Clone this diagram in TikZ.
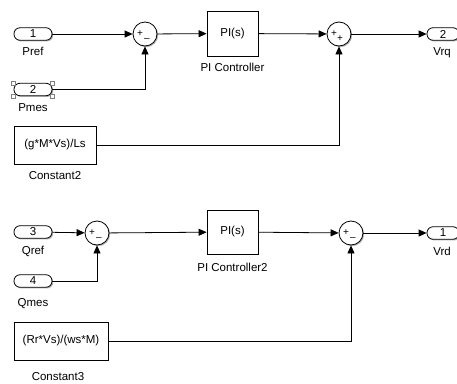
\documentclass[tikz,border=0pt]{standalone}
\usepackage{fontspec}
\setmainfont{Liberation Sans}
\usetikzlibrary{arrows.meta,shadows}

\begin{document}
\begin{tikzpicture}[x=1pt,y=-1pt,
    font=\fontsize{11.5}{12}\selectfont,
    shade/.style={drop shadow={shadow xshift=1.2pt,shadow yshift=-1.2pt,opacity=.3,fill=black}},
    port/.style={draw,line width=.8pt,rounded corners=6pt,minimum width=38pt,minimum height=12.5pt,inner sep=0pt,fill=white,shade},
    blk/.style={draw,line width=.8pt,fill=white,inner sep=0pt,shade},
    sumnode/.style={draw,circle,line width=.8pt,minimum size=24pt,inner sep=0pt,fill=white,shade},
    sgn/.style={font=\fontsize{10}{10}\selectfont,inner sep=0pt},
    lbl/.style={inner sep=0pt,text height=8pt,text depth=2pt},
    sig/.style={line width=.8pt,-{Triangle[length=8pt,width=7pt]}},
    handle/.style={draw=gray,line width=.4pt,fill=white}]
  \useasboundingbox (0,0) rectangle (457,383);
  % upper loop
  \node[port] (pref) at (33,34) {1};
  \node[lbl] (preflbl) at (33,52) {Pref};
  \node[port] (pmes) at (33,89.5) {2};
  \node[lbl] (pmeslbl) at (33,108) {Pmes};
  \foreach \c in {north west,north east,south west,south east}
    \draw[handle] (pmes.\c) ++(-2,-2) rectangle ++(4,4);
  \node[sumnode] (sum1) at (145,34) {};
  \node[sgn] (sum1a) at (140,34) {+};
  \node[sgn] (sum1b) at (147,40) {--};
  \node[blk,minimum width=51pt,minimum height=45pt] (pi1) at (232.5,33.5) {PI(s)};
  \node[lbl] (pi1lbl) at (232.5,68) {PI Controller};
  \node[sumnode] (sum2) at (339,34) {};
  \node[sgn] (sum2a) at (334,34) {+};
  \node[sgn] (sum2b) at (340,39) {+};
  \node[port,minimum width=32pt] (vrq) at (443,34) {2};
  \node[lbl] (vrqlbl) at (442,52) {Vrq};
  \node[blk,minimum width=82pt,minimum height=38pt] (const2) at (55,145) {(g*M*Vs)/Ls};
  \node[lbl] (const2lbl) at (55,176) {Constant2};
  \draw[sig] (pref) -- (sum1);
  \draw[sig] (pmes) -| (sum1);
  \draw[sig] (sum1) -- (pi1);
  \draw[sig] (pi1) -- (sum2);
  \draw[sig] (const2) -| (sum2);
  \draw[sig] (sum2) -- (vrq);
  % lower loop
  \node[port] (qref) at (33,232) {3};
  \node[lbl] (qreflbl) at (33,251) {Qref};
  \node[port] (qmes) at (33,281) {4};
  \node[lbl] (qmeslbl) at (33,303) {Qmes};
  \node[sumnode] (sum3) at (97,233) {};
  \node[sgn] (sum3a) at (92,233) {+};
  \node[sgn] (sum3b) at (99,239) {--};
  \node[blk,minimum width=51pt,minimum height=44pt] (pi2) at (232.5,232) {PI(s)};
  \node[lbl] (pi2lbl) at (232.5,268) {PI Controller2};
  \node[sumnode] (sum4) at (351,233) {};
  \node[sgn] (sum4a) at (346,233) {+};
  \node[sgn] (sum4b) at (353,239) {--};
  \node[port,minimum width=32pt] (vrd) at (443,233) {1};
  \node[lbl] (vrdlbl) at (442,252) {Vrd};
  \node[blk,minimum width=94pt,minimum height=38pt] (const3) at (61,341) {(Rr*Vs)/(ws*M)};
  \node[lbl] (const3lbl) at (58,377) {Constant3};
  \draw[sig] (qref) -- (sum3);
  \draw[sig] (qmes) -| (sum3);
  \draw[sig] (sum3) -- (pi2);
  \draw[sig] (pi2) -- (sum4);
  \draw[sig] (const3) -| (sum4);
  \draw[sig] (sum4) -- (vrd);
\end{tikzpicture}
\end{document}
